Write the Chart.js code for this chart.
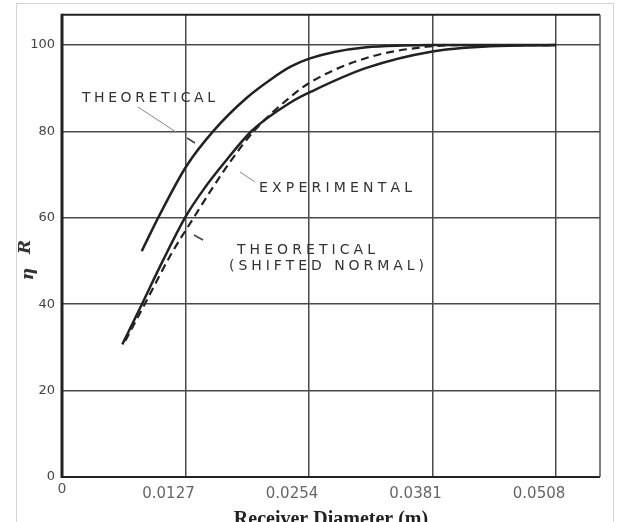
<!DOCTYPE html>
<html>
<head>
<meta charset="utf-8">
<script src="https://cdn.jsdelivr.net/npm/chart.js@4.4.1/dist/chart.umd.min.js"></script>
<style>
  html, body { margin: 0; padding: 0; background: #fff; }
  #wrap { width: 629px; height: 522px; position: relative; }
</style>
</head>
<body>
<div id="wrap"><canvas id="c" width="629" height="522"></canvas></div>
<script>
// Receiver collection efficiency vs. receiver diameter
const xTicks = [0.0127, 0.0254, 0.0381, 0.0508];
const yTicks = [0, 20, 40, 60, 80, 100];

const theoreticalX = [0.0082, 0.0100, 0.0128, 0.0156, 0.0190, 0.0215, 0.0235, 0.0255, 0.0280, 0.0313, 0.0350, 0.0381, 0.0440, 0.0508];
const theoreticalY = [52.3, 60.5, 72.0, 80.2, 87.8, 92.1, 95.0, 96.9, 98.4, 99.5, 99.9, 100, 100, 100];

const experimentalX = [0.0062, 0.0080, 0.0104, 0.0128, 0.0147, 0.0166, 0.0195, 0.0235, 0.0257, 0.0313, 0.0381, 0.0440, 0.0508];
const experimentalY = [30.7, 39.0, 50.2, 60.6, 67.0, 72.5, 80.1, 86.7, 89.3, 94.7, 98.5, 99.7, 100];

const shiftedX = [0.0065, 0.0085, 0.0112, 0.0137, 0.0155, 0.0173, 0.0197, 0.0235, 0.0257, 0.0313, 0.0375, 0.0420, 0.0508];
const shiftedY = [31.5, 40.0, 51.5, 60.6, 67.0, 73.0, 80.0, 88.0, 91.6, 97.0, 99.6, 100, 100];

const ink = '#222';
const gridInk = '#4a4a4a';

function toPoints(xs, ys) { return xs.map((x, i) => ({ x: x, y: ys[i] })); }

// draw text spread to a given width, char by char
function spreadText(ctx, text, left, right, y) {
  let w = 0;
  for (const ch of text) w += ctx.measureText(ch).width;
  const gap = text.length > 1 ? (right - left - w) / (text.length - 1) : 0;
  let x = left;
  ctx.textAlign = 'left';
  ctx.textBaseline = 'middle';
  for (const ch of text) {
    ctx.fillText(ch, x, y);
    x += ctx.measureText(ch).width + gap;
  }
}

const decor = {
  id: 'decor',
  beforeDraw(chart) {
    const ctx = chart.ctx;
    ctx.save();
    ctx.fillStyle = '#fff';
    ctx.fillRect(0, 0, chart.width, chart.height);
    ctx.strokeStyle = '#d4d4d4';
    ctx.lineWidth = 1;
    ctx.strokeRect(16.5, 3.5, 597, 530);
    ctx.restore();
  },
  afterDraw(chart) {
    const ctx = chart.ctx;
    const a = chart.chartArea;
    const xs = chart.scales.x;
    ctx.save();
    // plot frame
    ctx.strokeStyle = ink;
    ctx.lineWidth = 2;
    ctx.beginPath(); ctx.moveTo(a.left, a.top); ctx.lineTo(a.right, a.top); ctx.stroke();
    ctx.beginPath(); ctx.moveTo(a.left, a.bottom); ctx.lineTo(a.right, a.bottom); ctx.stroke();
    ctx.lineWidth = 1.5;
    ctx.strokeStyle = '#555';
    ctx.beginPath(); ctx.moveTo(a.right, a.top); ctx.lineTo(a.right, a.bottom); ctx.stroke();
    ctx.strokeStyle = ink;
    ctx.lineWidth = 3;
    ctx.beginPath(); ctx.moveTo(a.left, a.top - 1); ctx.lineTo(a.left, a.bottom + 1); ctx.stroke();

    // origin label of the x axis
    ctx.fillStyle = '#555';
    ctx.font = '14px "DejaVu Sans"';
    ctx.textAlign = 'center';
    ctx.textBaseline = 'middle';
    ctx.fillText('0', xs.getPixelForValue(0), a.bottom + 12);

    // curve annotations
    ctx.fillStyle = '#333';
    ctx.font = '14px "DejaVu Sans"';
    spreadText(ctx, 'THEORETICAL', 82, 215, 98);
    spreadText(ctx, 'EXPERIMENTAL', 259, 412, 188);
    spreadText(ctx, 'THEORETICAL', 237, 375, 250);
    spreadText(ctx, '(SHIFTED NORMAL)', 229, 424, 266);

    // leader lines
    ctx.strokeStyle = '#888';
    ctx.lineWidth = 1;
    ctx.beginPath(); ctx.moveTo(138, 107); ctx.lineTo(176, 132); ctx.stroke();
    ctx.beginPath(); ctx.moveTo(240, 172); ctx.lineTo(255, 182); ctx.stroke();
    ctx.strokeStyle = '#444';
    ctx.lineWidth = 1.5;
    ctx.beginPath(); ctx.moveTo(187, 138); ctx.lineTo(195, 143); ctx.stroke();
    ctx.beginPath(); ctx.moveTo(194, 235); ctx.lineTo(203, 240); ctx.stroke();

    // y-axis symbol
    ctx.fillStyle = '#333';
    ctx.font = 'italic bold 17px "DejaVu Serif"';
    ctx.textAlign = 'center';
    ctx.textBaseline = 'middle';
    ctx.save(); ctx.translate(26, 247); ctx.rotate(-Math.PI / 2); ctx.fillText('R', 0, 0); ctx.restore();
    ctx.save(); ctx.translate(29, 274); ctx.rotate(-Math.PI / 2); ctx.fillText('η', 0, 0); ctx.restore();
    ctx.restore();
  }
};

const lineStyle = {
  showLine: true,
  borderColor: ink,
  borderWidth: 2.5,
  pointRadius: 0,
  fill: false,
  cubicInterpolationMode: 'monotone'
};

new Chart(document.getElementById('c'), {
  type: 'scatter',
  data: {
    datasets: [
      Object.assign({ label: 'Theoretical', data: toPoints(theoreticalX, theoreticalY) }, lineStyle),
      Object.assign({ label: 'Experimental', data: toPoints(experimentalX, experimentalY) }, lineStyle),
      Object.assign({ label: 'Theoretical (shifted normal)', data: toPoints(shiftedX, shiftedY) }, lineStyle, { borderDash: [8, 5], borderWidth: 2.2 })
    ]
  },
  options: {
    responsive: false,
    animation: false,
    devicePixelRatio: 1,
    layout: { padding: { left: 0, right: 29, top: 9.5, bottom: 0 } },
    plugins: { legend: { display: false }, tooltip: { enabled: false } },
    scales: {
      x: {
        type: 'linear',
        min: 0,
        max: 0.05532,
        afterBuildTicks: s => { s.ticks = xTicks.map(v => ({ value: v })); },
        afterFit: s => { s.height = 45; },
        grid: { color: gridInk, lineWidth: 1.5, drawTicks: false },
        border: { display: false },
        ticks: {
          autoSkip: false,
          maxRotation: 0,
          padding: 8,
          labelOffset: -17,
          color: '#666',
          font: { family: 'DejaVu Sans', size: 15 },
          callback: v => v.toFixed(4)
        },
        title: {
          display: true,
          text: 'Receiver Diameter (m)',
          color: ink,
          font: { family: 'Liberation Serif', size: 20, weight: 'bold' },
          padding: { top: 0, bottom: -10 }
        }
      },
      y: {
        type: 'linear',
        min: 0,
        max: 107,
        afterBuildTicks: s => { s.ticks = yTicks.map(v => ({ value: v })); },
        afterFit: s => { s.width = 62; },
        grid: { color: gridInk, lineWidth: 1.5, drawTicks: false },
        border: { display: false },
        ticks: {
          padding: 7,
          color: '#444',
          font: { family: 'DejaVu Sans', size: 13 }
        }
      }
    }
  },
  plugins: [decor]
});
</script>
</body>
</html>
